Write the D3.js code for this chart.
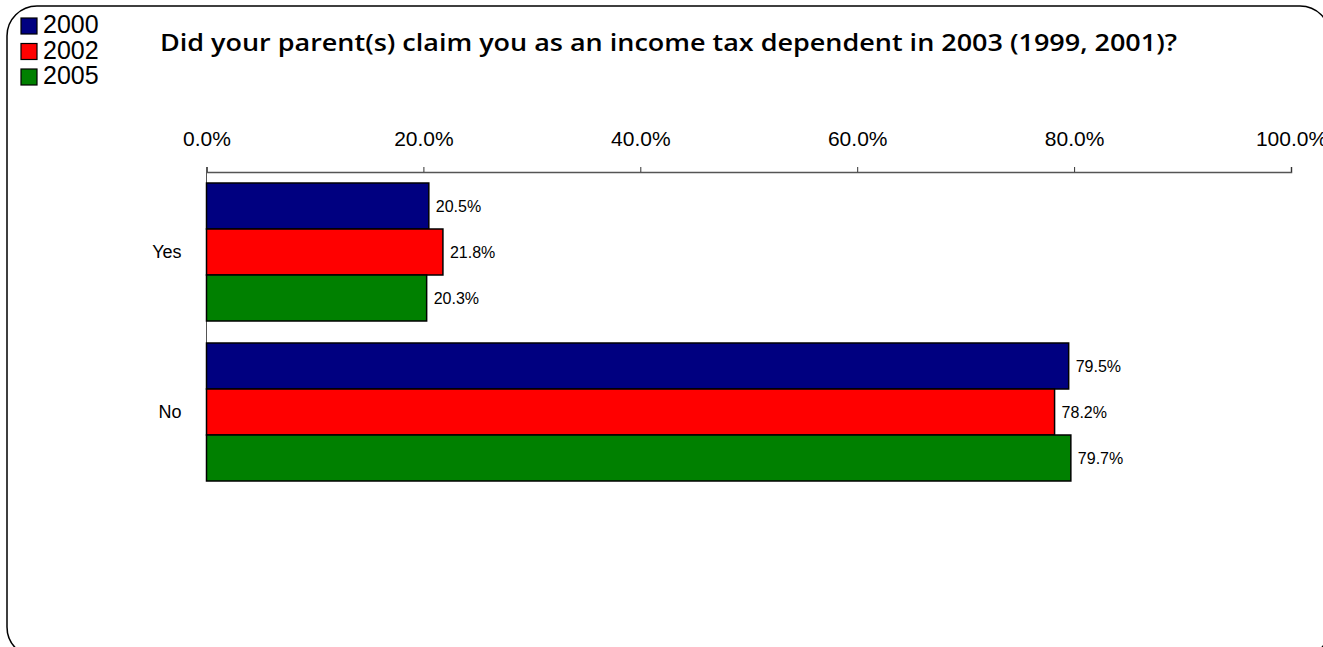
<!DOCTYPE html>
<html>
<head>
<meta charset="utf-8">
<script src="https://cdn.jsdelivr.net/npm/d3@7"></script>
<style>
  html, body { margin: 0; padding: 0; background: #fff; }
  svg { display: block; }
</style>
</head>
<body>
<svg id="chart" width="1323" height="647"></svg>
<script>
// Survey responses by year
const categories = ["Yes", "No"];
const seriesNames = ["2000", "2002", "2005"];
const values2000 = [20.5, 79.5];
const values2002 = [21.8, 78.2];
const values2005 = [20.3, 79.7];
const tickValues = [0, 20, 40, 60, 80, 100];
const seriesColors = ["#000080", "#FF0000", "#008000"];
const titleText = "Did your parent(s) claim you as an income tax dependent in 2003 (1999, 2001)?";

const seriesValues = [values2000, values2002, values2005];
const rows = categories.map((c, i) => ({
  category: c,
  entries: seriesNames.map((s, j) => ({ series: s, value: seriesValues[j][i], color: seriesColors[j] }))
}));

const svg = d3.select("#chart");
const font = "'Liberation Sans', Arial, sans-serif";

// Rounded outer frame
svg.append("rect")
  .attr("x", 7).attr("y", 6)
  .attr("width", 1323).attr("height", 651)
  .attr("rx", 30).attr("ry", 30)
  .attr("fill", "none")
  .attr("stroke", "#000")
  .attr("stroke-width", 1.5);

// Scales
const x = d3.scaleLinear().domain([0, 100]).range([206.5, 1291]);
const y = d3.scaleBand().domain(categories).range([172, 492])
  .paddingInner(0.1375).paddingOuter(0.06875);
const ySub = d3.scaleBand().domain(seriesNames).range([0, y.bandwidth()]);

// Top axis with percentage ticks
const xAxis = d3.axisTop(x)
  .tickValues(tickValues)
  .tickSize(5)
  .tickPadding(21)
  .tickFormat(d => d3.format(".1f")(d) + "%");

const gx = svg.append("g").attr("transform", "translate(0,172)").call(xAxis);
gx.select(".domain").attr("stroke", "#555").attr("stroke-width", 1.5);
gx.selectAll(".tick line").attr("stroke", "#333").attr("stroke-width", 1);
gx.selectAll(".tick text")
  .attr("font-family", font)
  .attr("font-size", 21)
  .attr("fill", "#000");

// Left category axis; its line runs from the top axis to the last bar
const yAxis = d3.axisLeft(y).tickSize(0).tickPadding(25);
const gy = svg.append("g").attr("transform", `translate(${x(0)},0)`).call(yAxis);
gy.select(".domain").remove();
gy.append("line")
  .attr("x1", 0).attr("x2", 0)
  .attr("y1", y.range()[0])
  .attr("y2", y(categories[categories.length - 1]) + y.bandwidth())
  .attr("stroke", "#555")
  .attr("stroke-width", 1);
gy.selectAll(".tick text")
  .attr("font-family", font)
  .attr("font-size", 18)
  .attr("fill", "#000");

// Bars
const groups = svg.append("g").selectAll("g.group")
  .data(rows)
  .join("g")
  .attr("class", "group")
  .attr("transform", d => `translate(0,${y(d.category)})`);

groups.selectAll("rect")
  .data(d => d.entries)
  .join("rect")
  .attr("x", x(0))
  .attr("y", d => ySub(d.series))
  .attr("width", d => x(d.value) - x(0))
  .attr("height", ySub.bandwidth())
  .attr("fill", d => d.color)
  .attr("stroke", "#000")
  .attr("stroke-width", 1.5);

// Value labels
groups.selectAll("text.value")
  .data(d => d.entries)
  .join("text")
  .attr("class", "value")
  .attr("x", d => x(d.value) + 7)
  .attr("y", d => ySub(d.series) + ySub.bandwidth() / 2)
  .attr("dy", "0.35em")
  .attr("font-family", font)
  .attr("font-size", 16)
  .attr("fill", "#000")
  .text(d => d3.format(".1f")(d.value) + "%");

// Title
svg.append("text")
  .attr("x", 160)
  .attr("y", 51)
  .attr("font-family", "'Open Sans', 'DejaVu Sans', sans-serif")
  .attr("font-weight", 600)
  .attr("font-size", 24)
  .attr("textLength", 1017)
  .attr("lengthAdjust", "spacingAndGlyphs")
  .attr("fill", "#000")
  .text(titleText);

// Legend
const legend = svg.append("g").selectAll("g")
  .data(seriesNames)
  .join("g")
  .attr("transform", (d, i) => `translate(21,${18 + i * 25.5})`);

legend.append("rect")
  .attr("width", 16).attr("height", 16)
  .attr("fill", (d, i) => seriesColors[i])
  .attr("stroke", "#000")
  .attr("stroke-width", 1.2);

legend.append("text")
  .attr("x", 22)
  .attr("y", 15)
  .attr("font-family", font)
  .attr("font-size", 25)
  .attr("fill", "#000")
  .text(d => d);
</script>
</body>
</html>
